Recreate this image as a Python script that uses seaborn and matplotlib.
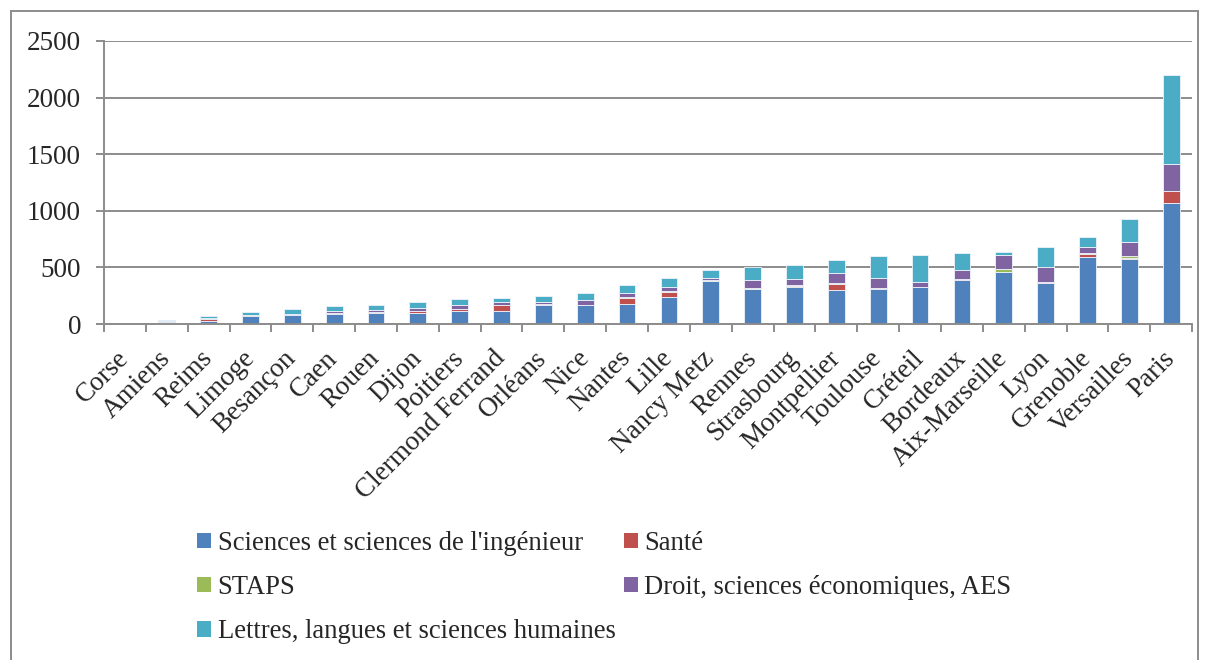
"""Stacked bars: doctorants par académie et par discipline."""

import matplotlib
matplotlib.use("Agg")
import matplotlib.pyplot as plt
import numpy as np
import pandas as pd
import seaborn as sns
from matplotlib.patches import Patch, Rectangle

academies = [
    "Corse", "Amiens", "Reims", "Limoge", "Besançon", "Caen", "Rouen", "Dijon",
    "Poitiers", "Clermond Ferrand", "Orléans", "Nice", "Nantes", "Lille",
    "Nancy Metz", "Rennes", "Strasbourg", "Montpellier", "Toulouse", "Créteil",
    "Bordeaux", "Aix-Marseille", "Lyon", "Grenoble", "Versailles", "Paris",
]

sciences = [2, 12, 30, 74, 80, 92, 101, 101, 118, 118, 170, 164, 173, 241,
            378, 310, 330, 298, 312, 324, 391, 462, 365, 594, 574, 1071]
sante = [0, 5, 12, 2, 4, 8, 6, 10, 12, 54, 5, 3, 60, 45,
         5, 3, 8, 60, 3, 2, 5, 2, 2, 28, 10, 100]
staps = [0, 0, 2, 0, 0, 2, 2, 5, 3, 0, 2, 2, 2, 9,
         2, 8, 10, 2, 6, 2, 4, 18, 7, 2, 15, 5]
droit = [1, 8, 6, 8, 6, 16, 15, 28, 33, 26, 15, 45, 42, 35,
         20, 72, 54, 92, 84, 47, 76, 130, 129, 58, 127, 240]
lettres = [3, 10, 18, 21, 42, 42, 42, 48, 56, 33, 52, 57, 68, 81,
           74, 107, 119, 110, 193, 235, 148, 23, 176, 89, 200, 781]

series_names = [
    "Sciences et sciences de l'ingénieur",
    "Santé",
    "STAPS",
    "Droit, sciences économiques, AES",
    "Lettres, langues et sciences humaines",
]
colors = ["#4F81BD", "#C0504D", "#9BBB59", "#8064A2", "#4BACC6"]
grey = "#8c8c8c"
fs = 19.5

sns.set_theme(style="white")
plt.rcParams["font.family"] = ["Liberation Serif", "DejaVu Serif"]

fig = plt.figure(figsize=(12.09, 6.6), dpi=100)
ax = fig.add_axes([0.086, 0.509, 0.9, 0.429])

bottom = np.zeros(len(academies))
for name, vals, col in zip(series_names, [sciences, sante, staps, droit, lettres], colors):
    sns.barplot(x=academies, y=vals, bottom=bottom, color=col, width=0.4,
                saturation=1, edgecolor="#eef3fa", linewidth=0.6, ax=ax,
                errorbar=None)
    bottom = bottom + np.array(vals)

ax.set_ylim(0, 2500)
ax.set_xlim(-0.5, len(academies) - 0.5)
ax.set_yticks(range(0, 2501, 500))
ax.yaxis.grid(True, color=grey, linewidth=1.4)
ax.set_axisbelow(True)
for side in ["top", "right"]:
    ax.spines[side].set_visible(False)
for side in ["left", "bottom"]:
    ax.spines[side].set_color(grey)
    ax.spines[side].set_linewidth(1.4)

ax.tick_params(axis="y", which="major", left=True, length=6, width=1.4,
               color=grey, labelsize=fs, pad=10.5)
ax.set_xticks(np.arange(-0.5, len(academies), 1.0), minor=True)
ax.tick_params(axis="x", which="minor", bottom=True, length=6, width=1.4,
               color=grey)
ax.tick_params(axis="x", which="major", bottom=False, labelsize=fs, pad=16)
plt.setp(ax.get_xticklabels(), rotation=45, ha="right", va="center",
         rotation_mode="anchor")
ax.set_xlabel("")
ax.set_ylabel("")

# legend fills column-wise, so reorder to read row-wise like the original
order = [0, 2, 4, 1, 3]
handles = [Patch(facecolor=colors[i], edgecolor="none") for i in order]
labels = [series_names[i] for i in order]
fig.legend(handles, labels, ncol=2, loc="upper left",
           bbox_to_anchor=(0.143, 0.232), frameon=False, fontsize=19.2,
           handlelength=0.53, handleheight=0.53, handletextpad=0.25,
           columnspacing=0.3, labelspacing=0.72)

fig.patches.append(Rectangle((0.0088, -0.01), 0.982, 0.993, transform=fig.transFigure,
                             fill=False, edgecolor=grey, linewidth=1.4))

fig.savefig("out.png", dpi=100)
